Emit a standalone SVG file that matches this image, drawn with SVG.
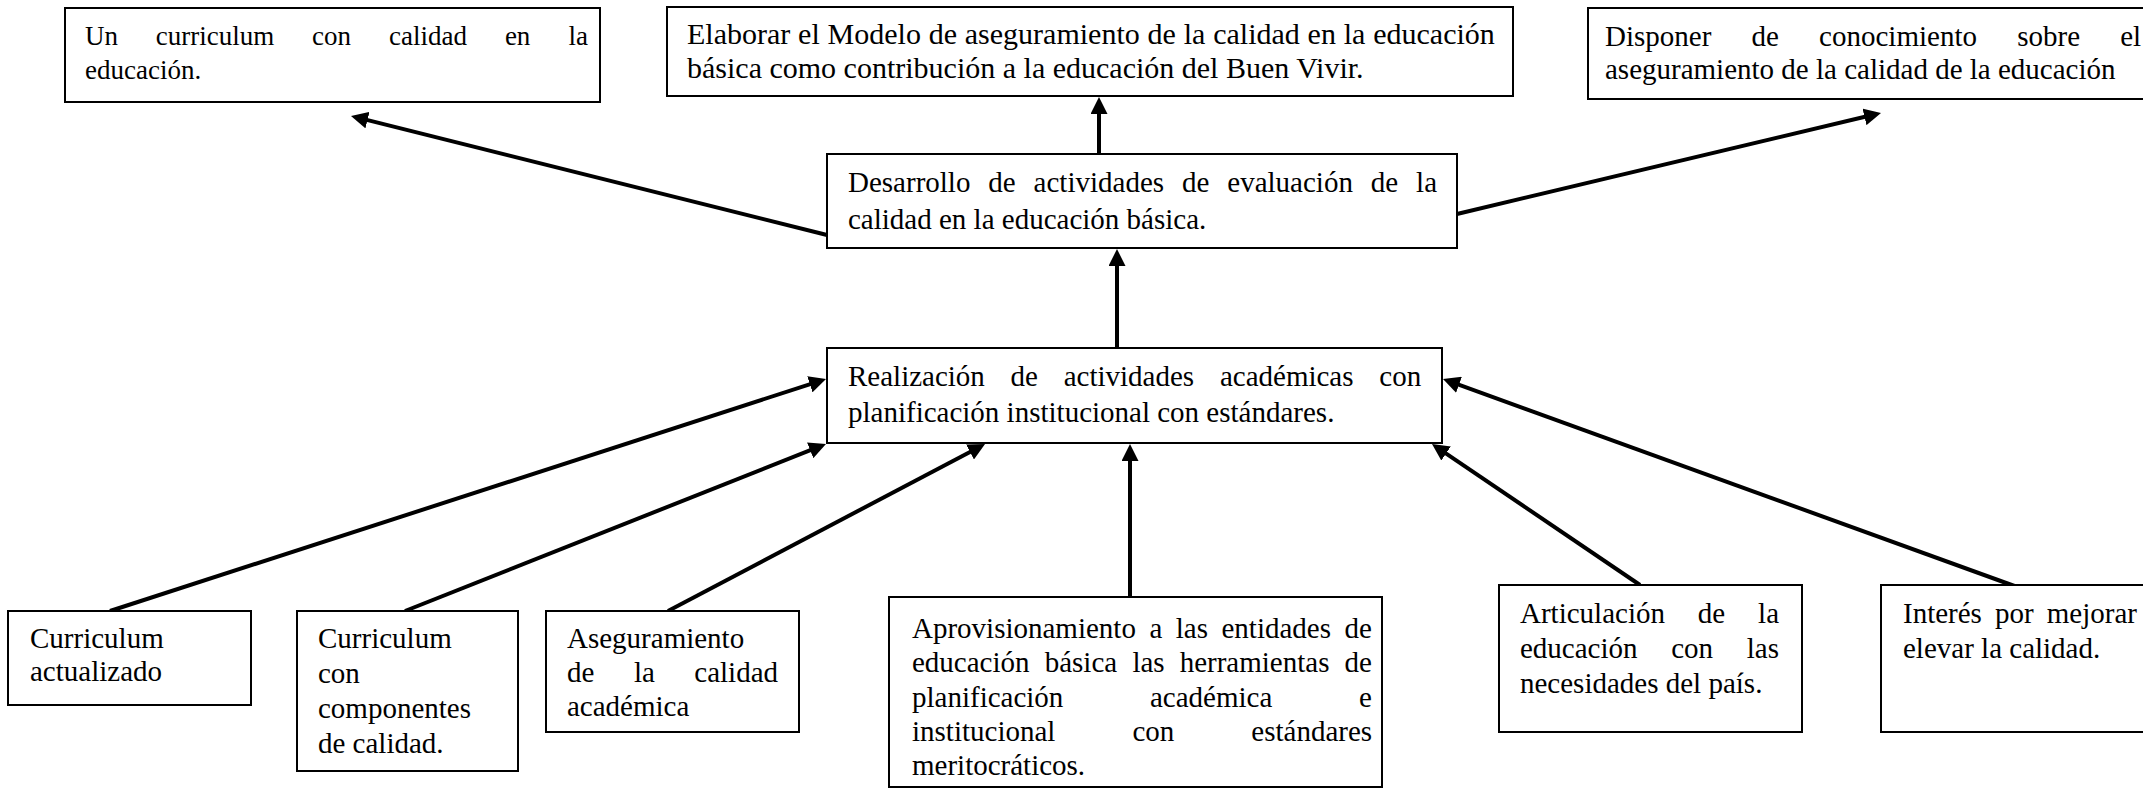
<svg xmlns="http://www.w3.org/2000/svg" width="2143" height="789" viewBox="0 0 2143 789">
<style>
.box{fill:#fff;stroke:#000;stroke-width:2}
.t{font-family:"Liberation Serif","Times New Roman",serif;font-size:29px;fill:#000}
.conn line{stroke:#000;stroke-width:4;marker-end:url(#ah)}
</style>
<defs>
<marker id="ah" viewBox="0 0 17 17" refX="7" refY="8.5" markerWidth="17" markerHeight="17" markerUnits="userSpaceOnUse" orient="auto"><path d="M0,0 L17,8.5 L0,17 z" fill="#000"/></marker>
</defs>
<rect width="2143" height="789" fill="#fff"/>
<g id="connectors" class="conn">
<line x1="827" y1="235" x2="360.7" y2="118.4"/>
<line x1="1099" y1="154" x2="1099" y2="107"/>
<line x1="1457" y1="214" x2="1871.3" y2="115.3"/>
<line x1="1117" y1="348" x2="1117" y2="259"/>
<line x1="110" y1="611" x2="816.5" y2="382.1"/>
<line x1="405" y1="611" x2="816.7" y2="447.7"/>
<line x1="668" y1="611" x2="976.2" y2="448.7"/>
<line x1="1130" y1="597" x2="1130" y2="454"/>
<line x1="1640" y1="585" x2="1440.3" y2="449.6"/>
<line x1="2020" y1="588" x2="1452.4" y2="382.4"/>
</g>
<g id="nodeA">
<rect class="box" x="65" y="8" width="535" height="94"/>
<text class="t" style="font-size:27px" y="45"><tspan x="85">Un</tspan><tspan x="155.8">curriculum</tspan><tspan x="312.1">con</tspan><tspan x="389">calidad</tspan><tspan x="504.9">en</tspan><tspan x="568.5">la</tspan></text>
<text class="t" style="font-size:27px" x="85" y="79">educación.</text>
</g>
<g id="nodeB">
<rect class="box" x="667" y="7" width="846" height="89"/>
<text class="t" style="font-size:30px" y="44"><tspan x="687">Elaborar</tspan><tspan x="798.1">el</tspan><tspan x="827.6">Modelo</tspan><tspan x="928.7">de</tspan><tspan x="964.8">aseguramiento</tspan><tspan x="1147.6">de</tspan><tspan x="1183.7">la</tspan><tspan x="1213.2">calidad</tspan><tspan x="1307.6">en</tspan><tspan x="1343.7">la</tspan><tspan x="1373.2">educación</tspan></text>
<text class="t" style="font-size:30px" x="687" y="78">básica como contribución a la educación del Buen Vivir.</text>
</g>
<g id="nodeC">
<rect class="box" x="1588" y="8" width="620" height="91"/>
<text class="t" y="46"><tspan x="1605">Disponer</tspan><tspan x="1751.5">de</tspan><tspan x="1819.1">conocimiento</tspan><tspan x="2017.2">sobre</tspan><tspan x="2120.2">el</tspan></text>
<text class="t" x="1605" y="79">aseguramiento de la calidad de la educación</text>
</g>
<g id="nodeD">
<rect class="box" x="827" y="154" width="630" height="94"/>
<text class="t" y="192"><tspan x="848">Desarrollo</tspan><tspan x="988.3">de</tspan><tspan x="1033.6">actividades</tspan><tspan x="1182">de</tspan><tspan x="1227.3">evaluación</tspan><tspan x="1370.8">de</tspan><tspan x="1416.1">la</tspan></text>
<text class="t" x="848" y="229">calidad en la educación básica.</text>
</g>
<g id="nodeE">
<rect class="box" x="827" y="348" width="615" height="95"/>
<text class="t" y="386"><tspan x="848">Realización</tspan><tspan x="1010.6">de</tspan><tspan x="1063.7">actividades</tspan><tspan x="1219.9">académicas</tspan><tspan x="1379.3">con</tspan></text>
<text class="t" x="848" y="422">planificación institucional con estándares.</text>
</g>
<g id="nodeF">
<rect class="box" x="8" y="611" width="243" height="94"/>
<text class="t" x="30" y="648">Curriculum</text>
<text class="t" x="30" y="681">actualizado</text>
</g>
<g id="nodeG">
<rect class="box" x="297" y="611" width="221" height="160"/>
<text class="t" x="318" y="648">Curriculum</text>
<text class="t" x="318" y="683">con</text>
<text class="t" x="318" y="718">componentes</text>
<text class="t" x="318" y="753">de calidad.</text>
</g>
<g id="nodeH">
<rect class="box" x="546" y="611" width="253" height="121"/>
<text class="t" x="567" y="648">Aseguramiento</text>
<text class="t" y="682"><tspan x="567">de</tspan><tspan x="633.9">la</tspan><tspan x="694.3">calidad</tspan></text>
<text class="t" x="567" y="716">académica</text>
</g>
<g id="nodeI">
<rect class="box" x="889" y="597" width="493" height="190"/>
<text class="t" y="638"><tspan x="912">Aprovisionamiento</tspan><tspan x="1149.4">a</tspan><tspan x="1175.8">las</tspan><tspan x="1221.5">entidades</tspan><tspan x="1344.5">de</tspan></text>
<text class="t" y="672"><tspan x="912">educación</tspan><tspan x="1044.7">básica</tspan><tspan x="1132.4">las</tspan><tspan x="1179.7">herramientas</tspan><tspan x="1344.6">de</tspan></text>
<text class="t" y="707"><tspan x="912">planificación</tspan><tspan x="1150">académica</tspan><tspan x="1359.1">e</tspan></text>
<text class="t" y="741"><tspan x="912">institucional</tspan><tspan x="1132.4">con</tspan><tspan x="1251.3">estándares</tspan></text>
<text class="t" x="912" y="775">meritocráticos.</text>
</g>
<g id="nodeJ">
<rect class="box" x="1499" y="585" width="303" height="147"/>
<text class="t" y="623"><tspan x="1520">Articulación</tspan><tspan x="1697.8">de</tspan><tspan x="1758.1">la</tspan></text>
<text class="t" y="658"><tspan x="1520">educación</tspan><tspan x="1671.2">con</tspan><tspan x="1746.8">las</tspan></text>
<text class="t" x="1520" y="693">necesidades del país.</text>
</g>
<g id="nodeK">
<rect class="box" x="1881" y="585" width="320" height="147"/>
<text class="t" y="623"><tspan x="1903">Interés</tspan><tspan x="1995">por</tspan><tspan x="2046.8">mejorar</tspan></text>
<text class="t" x="1903" y="658">elevar la calidad.</text>
</g>
</svg>
